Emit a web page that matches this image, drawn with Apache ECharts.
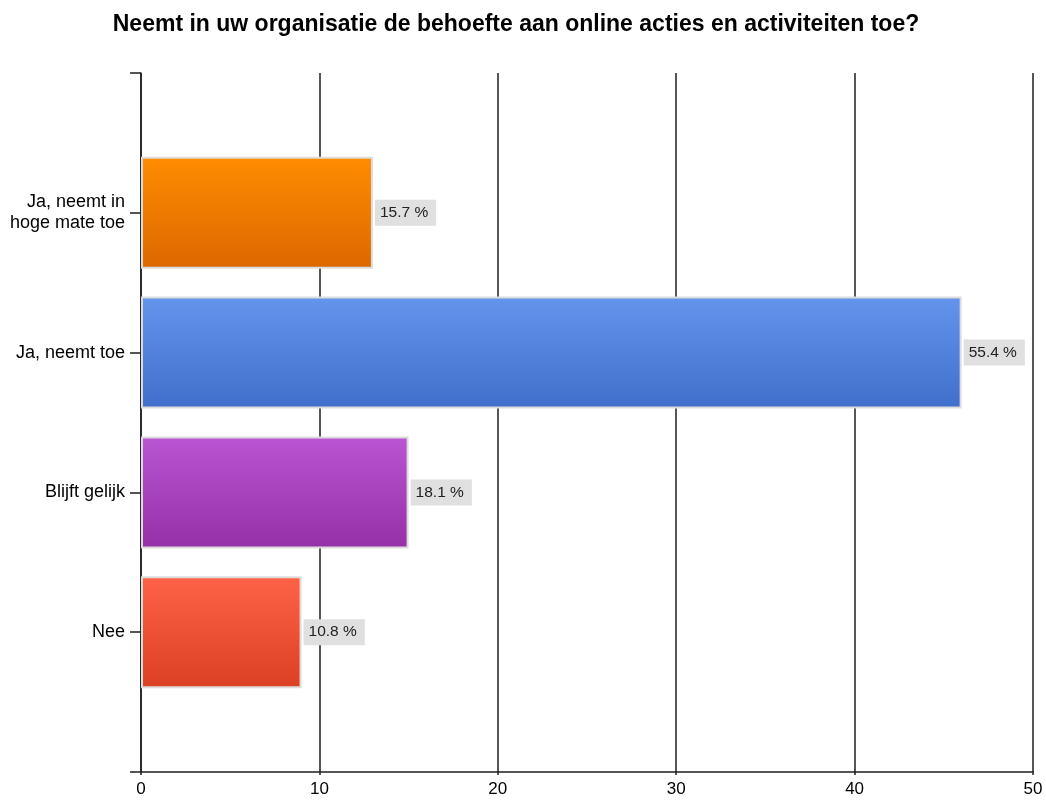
<!DOCTYPE html>
<html>
<head>
<meta charset="utf-8">
<title>Online acties en activiteiten</title>
<script src="https://cdn.jsdelivr.net/npm/echarts@6/dist/echarts.min.js"></script>
<style>
  html, body { margin: 0; padding: 0; background: #ffffff; }
  #chart { width: 1046px; height: 804px; }
</style>
</head>
<body>
<div id="chart"></div>
<script>
// Answer categories, top to bottom
var categories = ['Ja, neemt in\nhoge mate toe', 'Ja, neemt toe', 'Blijft gelijk', 'Nee'];
// Number of responses per answer
var counts = [13, 46, 15, 9];
// Value axis ticks
var xTicks = [0, 10, 20, 30, 40, 50];
// Bar gradients (top colour, bottom colour)
var barTop = ['#ff8c00', '#6495ed', '#ba55d3', '#ff6347'];
var barBottom = ['#dc6800', '#3f6fca', '#9530a8', '#dc4022'];

var total = counts.reduce(function (a, b) { return a + b; }, 0);
var FONT = 'Liberation Sans, Arial, sans-serif';

// Empty slots above and below give the axis its outer ticks
var yData = [''].concat(categories, ['']);
var seriesData = ['-'].concat(counts.map(function (v, i) {
  return {
    value: v,
    itemStyle: {
      color: new echarts.graphic.LinearGradient(0, 0, 0, 1, [
        { offset: 0, color: barTop[i] },
        { offset: 1, color: barBottom[i] }
      ])
    }
  };
}), ['-']);

var lineCol = '#1e1e1e';

var chart = echarts.init(document.getElementById('chart'), null, { renderer: 'canvas' });
chart.setOption({
  animation: false,
  backgroundColor: '#ffffff',
  title: {
    text: 'Neemt in uw organisatie de behoefte aan online acties en activiteiten toe?',
    left: 511,
    textAlign: 'center',
    top: 8,
    textStyle: {
      fontFamily: FONT,
      fontSize: 23,
      fontWeight: 'bold',
      color: '#000000'
    }
  },
  grid: { left: 141, right: 13, top: 73, bottom: 32, containLabel: false },
  xAxis: {
    type: 'value',
    min: xTicks[0],
    max: xTicks[xTicks.length - 1],
    interval: xTicks[1] - xTicks[0],
    axisLine: { show: true, lineStyle: { color: lineCol, width: 1.5 } },
    axisTick: { show: true, length: 3, lineStyle: { color: lineCol, width: 1.5 } },
    splitLine: { show: true, lineStyle: { color: lineCol, width: 1.5 } },
    axisLabel: {
      fontFamily: FONT,
      fontSize: 17,
      color: '#000000',
      margin: 9
    }
  },
  yAxis: {
    type: 'category',
    inverse: true,
    boundaryGap: false,
    data: yData,
    axisLine: { show: true, lineStyle: { color: lineCol, width: 1.5 } },
    axisTick: { show: true, length: 11, interval: 0, lineStyle: { color: lineCol, width: 1.5 } },
    axisLabel: {
      interval: 0,
      margin: 16,
      fontFamily: FONT,
      fontSize: 18,
      lineHeight: 21,
      color: '#000000',
      align: 'right'
    },
    splitLine: { show: false }
  },
  series: [{
    type: 'bar',
    data: seriesData,
    barWidth: 112,
    itemStyle: { borderColor: '#dcdcdc', borderWidth: 2 },
    label: {
      show: true,
      position: 'right',
      distance: 2,
      formatter: function (p) {
        return (p.value / total * 100).toFixed(1) + ' %';
      },
      fontFamily: FONT,
      fontSize: 15.5,
      color: '#222222',
      backgroundColor: '#e0e0e0',
      padding: [5, 8, 5, 5]
    }
  }]
});
</script>
</body>
</html>
